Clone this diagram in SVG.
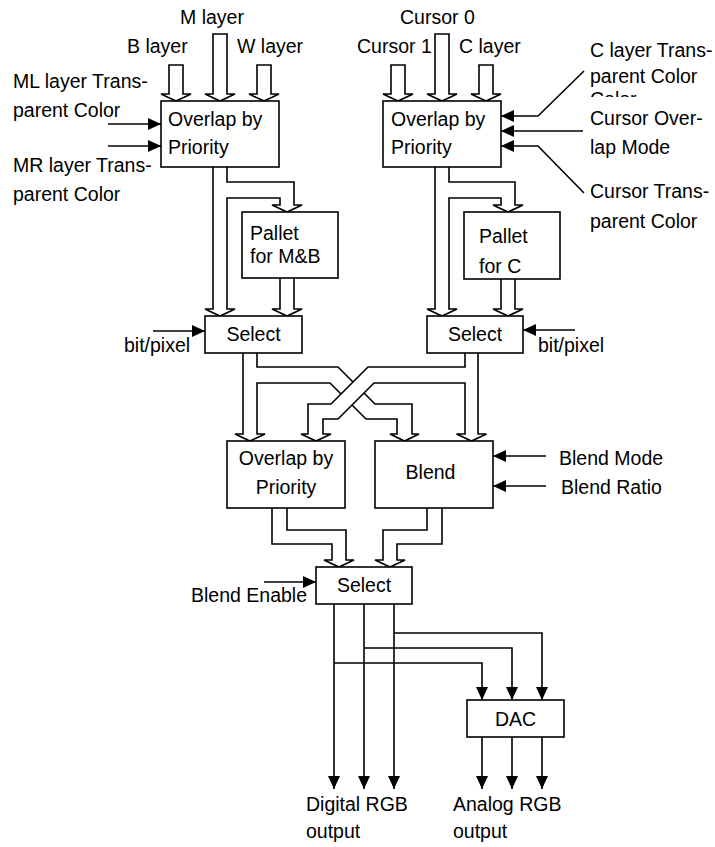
<svg xmlns="http://www.w3.org/2000/svg" width="715" height="847" viewBox="0 0 715 847">
<style>
text{font-family:"Liberation Sans",Arial,sans-serif;font-size:19.5px;fill:#000}
.box{fill:#fff;stroke:#000;stroke-width:1.6}
.hol{fill:#fff;stroke:#000;stroke-width:1.6;stroke-linejoin:miter}
.ln{fill:none;stroke:#000;stroke-width:1.6}
.c{text-anchor:middle}
</style>
<defs>
<marker id="ah" markerUnits="userSpaceOnUse" markerWidth="13" markerHeight="12" refX="13" refY="6" orient="auto">
<path d="M0,0 L13,6 L0,12 Z" fill="#000"/>
</marker>
<clipPath id="clipColor"><rect x="580" y="85" width="135" height="12"/></clipPath>
</defs>
<rect width="715" height="847" fill="#fff"/>

<g id="connectors">
<!-- top hollow input arrows -->
<path class="hol" d="M169,65 L183,65 L183,94 L191,94 L176,101 L161,94 L169,94 Z"/>
<path class="hol" d="M213,34 L227,34 L227,94 L235,94 L220,101 L205,94 L213,94 Z"/>
<path class="hol" d="M257,65 L271,65 L271,94 L279,94 L264,101 L249,94 L257,94 Z"/>
<path class="hol" d="M391,65 L405,65 L405,94 L413,94 L398,101 L383,94 L391,94 Z"/>
<path class="hol" d="M435,34 L449,34 L449,94 L457,94 L442,101 L427,94 L435,94 Z"/>
<path class="hol" d="M479,65 L493,65 L493,94 L501,94 L486,101 L471,94 L479,94 Z"/>
<!-- left overlap -> select / pallet -->
<path class="hol" d="M213,167 L213,309 L205,309 L220,316 L235,309 L227,309 L227,198 L280,198 L280,205 L272,205 L287,212 L302,205 L294,205 L294,182 L227,182 L227,167"/>
<path class="hol" d="M280,278 L280,309 L272,309 L287,316 L302,309 L294,309 L294,278"/>
<!-- right overlap -> select / pallet -->
<path class="hol" d="M435,167 L435,309 L427,309 L442,316 L457,309 L449,309 L449,198 L501,198 L501,205 L493,205 L508,212 L523,205 L515,205 L515,182 L449,182 L449,167"/>
<path class="hol" d="M501,279 L501,309 L493,309 L508,316 L523,309 L515,309 L515,279"/>
<!-- crossing bands -->
<path class="hol" d="M243,353 L243,434 L235,434 L250,441 L265,434 L257,434 L257,383 L330,383 L366,419 L397,419 L397,434 L390,434 L404.5,441 L419,434 L412,434 L412,404 L375,404 L338,367 L257,367 L257,353"/>
<path class="hol" d="M478,353 L478,434 L486.5,434 L471.5,441 L456.5,434 L465,434 L465,383 L374,383 L338,419 L323,419 L323,434 L331,434 L316,441 L301,434 L308,434 L308,404 L331,404 L368,367 L465,367 L465,353"/>
<!-- overlap2 / blend -> final select -->
<path class="hol" d="M272,508 L272,544 L332,544 L332,560 L324,560 L339,567 L354,560 L346,560 L346,530 L287,530 L287,508"/>
<path class="hol" d="M442,508 L442,544 L397,544 L397,560 L405,560 L390,567 L375,560 L383,560 L383,530 L427,530 L427,508"/>
<!-- control arrows -->
<line class="ln" x1="108" y1="124" x2="161" y2="124" marker-end="url(#ah)"/>
<line class="ln" x1="108" y1="146" x2="161" y2="146" marker-end="url(#ah)"/>
<polyline class="ln" points="584,71 538,116 501,116" marker-end="url(#ah)"/>
<line class="ln" x1="583" y1="131" x2="501" y2="131" marker-end="url(#ah)"/>
<polyline class="ln" points="584,193 538,146 501,146" marker-end="url(#ah)"/>
<line class="ln" x1="153" y1="331" x2="205" y2="331" marker-end="url(#ah)"/>
<line class="ln" x1="575" y1="330" x2="523" y2="330" marker-end="url(#ah)"/>
<line class="ln" x1="546" y1="456" x2="493" y2="456" marker-end="url(#ah)"/>
<line class="ln" x1="546" y1="486" x2="493" y2="486" marker-end="url(#ah)"/>
<line class="ln" x1="264" y1="582" x2="316" y2="582" marker-end="url(#ah)"/>
<!-- outputs -->
<line class="ln" x1="334" y1="604" x2="334" y2="789" marker-end="url(#ah)"/>
<line class="ln" x1="364" y1="604" x2="364" y2="789" marker-end="url(#ah)"/>
<line class="ln" x1="394" y1="604" x2="394" y2="789" marker-end="url(#ah)"/>
<polyline class="ln" points="394,633 542,633 542,700" marker-end="url(#ah)"/>
<polyline class="ln" points="364,648 512,648 512,700" marker-end="url(#ah)"/>
<polyline class="ln" points="334,663 482,663 482,700" marker-end="url(#ah)"/>
<line class="ln" x1="482" y1="737" x2="482" y2="789" marker-end="url(#ah)"/>
<line class="ln" x1="512" y1="737" x2="512" y2="789" marker-end="url(#ah)"/>
<line class="ln" x1="542" y1="737" x2="542" y2="789" marker-end="url(#ah)"/>
</g>

<g id="overlap-left">
<rect class="box" x="161" y="101" width="118" height="66"/>
<text x="168" y="126">Overlap by</text>
<text x="168" y="154">Priority</text>
</g>
<g id="overlap-right">
<rect class="box" x="383" y="101" width="118" height="66"/>
<text x="391" y="126">Overlap by</text>
<text x="391" y="154">Priority</text>
</g>
<g id="pallet-mb">
<rect class="box" x="242" y="212" width="96" height="66"/>
<text x="250" y="240">Pallet</text>
<text x="250" y="263">for M&amp;B</text>
</g>
<g id="pallet-c">
<rect class="box" x="464" y="212" width="96" height="67"/>
<text x="479" y="243">Pallet</text>
<text x="479" y="273">for C</text>
</g>
<g id="select-left">
<rect class="box" x="205" y="316" width="97" height="37"/>
<text class="c" x="253.5" y="341">Select</text>
</g>
<g id="select-right">
<rect class="box" x="427" y="316" width="96" height="37"/>
<text class="c" x="475" y="341">Select</text>
</g>
<g id="overlap-2">
<rect class="box" x="227" y="441" width="118" height="67"/>
<text class="c" x="286" y="465">Overlap by</text>
<text class="c" x="286" y="494">Priority</text>
</g>
<g id="blend">
<rect class="box" x="375" y="441" width="118" height="67"/>
<text class="c" x="430.5" y="479">Blend</text>
</g>
<g id="select-final">
<rect class="box" x="316" y="567" width="96" height="37"/>
<text class="c" x="364" y="592">Select</text>
</g>
<g id="dac">
<rect class="box" x="467" y="700" width="97" height="37"/>
<text class="c" x="515.5" y="726">DAC</text>
</g>

<g id="labels">
<text x="180" y="24">M layer</text>
<text x="127" y="53">B layer</text>
<text x="237" y="53">W layer</text>
<text x="400" y="24">Cursor 0</text>
<text x="357" y="53">Cursor 1</text>
<text x="459" y="53">C layer</text>
<text x="13" y="88">ML layer Trans-</text>
<text x="13" y="117">parent Color</text>
<text x="13" y="172">MR layer Trans-</text>
<text x="13" y="201">parent Color</text>
<text x="590" y="57">C layer Trans-</text>
<text x="590" y="83">parent Color</text>
<text x="590" y="106" clip-path="url(#clipColor)">Color</text>
<text x="590" y="125">Cursor Over-</text>
<text x="590" y="154">lap Mode</text>
<text x="590" y="198">Cursor Trans-</text>
<text x="590" y="228">parent Color</text>
<text x="124" y="352">bit/pixel</text>
<text x="538" y="352">bit/pixel</text>
<text x="559" y="465">Blend Mode</text>
<text x="561" y="494">Blend Ratio</text>
<text x="191" y="602">Blend Enable</text>
<text x="306" y="811">Digital RGB</text>
<text x="306" y="838">output</text>
<text x="453" y="811">Analog RGB</text>
<text x="453" y="838">output</text>
</g>
</svg>
